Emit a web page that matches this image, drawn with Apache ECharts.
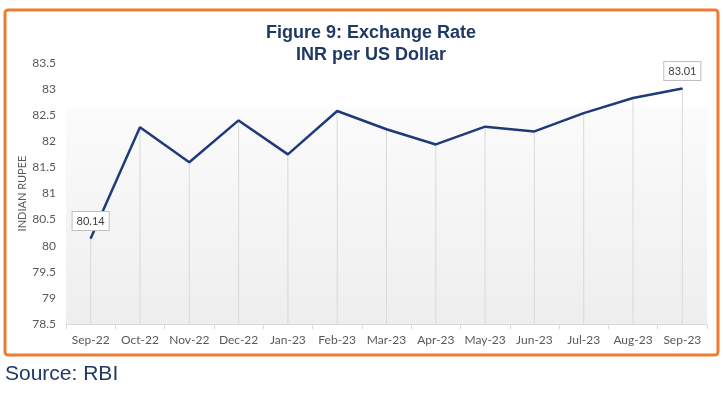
<!DOCTYPE html>
<html>
<head>
<meta charset="utf-8">
<script src="https://cdn.jsdelivr.net/npm/echarts@6/dist/echarts.min.js"></script>
<style>
html,body{margin:0;padding:0;background:#fff;}
#chart{width:723px;height:395px;}
</style>
</head>
<body>
<div id="chart"></div>
<script>
const categories = ['Sep-22','Oct-22','Nov-22','Dec-22','Jan-23','Feb-23','Mar-23','Apr-23','May-23','Jun-23','Jul-23','Aug-23','Sep-23'];
const rates = [80.14, 82.27, 81.60, 82.40, 81.75, 82.58, 82.23, 81.94, 82.28, 82.19, 82.54, 82.83, 83.01];
const labelledIdx = [0, 12];
const yMin = 78.5, yMax = 83.5, yStep = 0.5;

const chart = echarts.init(document.getElementById('chart'), null, {renderer:'canvas'});
const navy = '#1F3A78';
const lineData = rates.map((v, i) => labelledIdx.includes(i) ? {
  value: v,
  symbol: 'circle', symbolSize: 1,
  label: {
    show: true, position: 'top', distance: 8,
    formatter: (p) => p.value.toFixed(2),
    backgroundColor: '#ffffff', borderColor: '#BFBFBF', borderWidth: 1,
    padding: [4, 4, 3, 4], color: '#404040', fontSize: 11, fontFamily: 'Lato'
  }
} : { value: v, symbol: 'none' });

chart.setOption({
  animation: false,
  title: {
    text: 'Figure 9: Exchange Rate\nINR per US Dollar',
    left: 366, textAlign: 'center', top: 17,
    textStyle: { color: '#1F3864', fontSize: 18, fontWeight: 'bold', fontFamily: 'Liberation Sans, Arial', lineHeight: 22 }
  },
  graphic: [
    { type: 'rect', shape: { x: 5, y: 10, width: 713, height: 345, r: 3 }, style: { fill: 'none', stroke: '#ED7D31', lineWidth: 3 }, z: 100 },
    { type: 'text', left: 5, top: 364, style: { text: 'Source: RBI', fill: '#1F3864', font: '21px "Liberation Sans", Arial' } }
  ],
  grid: {
    left: 66, right: 16, top: 63, bottom: 71, show: true, borderWidth: 0,
    backgroundColor: new echarts.graphic.LinearGradient(0, 0, 0, 1, [
      { offset: 0, color: '#ffffff' },
      { offset: 0.17, color: '#ffffff' },
      { offset: 0.175, color: '#fbfbfb' },
      { offset: 1, color: '#eeeeee' }
    ])
  },
  xAxis: {
    type: 'category', data: categories, boundaryGap: true,
    axisLine: { lineStyle: { color: '#D9D9D9', width: 1 } },
    axisTick: { show: true, length: 5, lineStyle: { color: '#D9D9D9' } },
    axisLabel: { color: '#595959', fontSize: 12, fontFamily: 'Lato', margin: 10, interval: 0 },
    splitLine: { show: false }
  },
  yAxis: {
    type: 'value', min: yMin, max: yMax, interval: yStep,
    name: 'INDIAN RUPEE', nameLocation: 'middle', nameRotate: 90, nameGap: 38,
    nameMoveOverlap: false,
    nameTextStyle: { color: '#595959', fontSize: 11, fontFamily: 'Lato' },
    axisLine: { show: false }, axisTick: { show: false },
    splitLine: { show: false },
    axisLabel: { color: '#595959', fontSize: 12, fontFamily: 'Lato', margin: 10 }
  },
  series: [
    {
      type: 'bar', data: rates, barWidth: 1, silent: true, z: 1,
      itemStyle: { color: '#D9D9D9' }
    },
    {
      type: 'line', data: lineData, showSymbol: true, z: 5,
      itemStyle: { color: navy },
      lineStyle: { color: navy, width: 2.5 }
    }
  ]
});
</script>
</body>
</html>
